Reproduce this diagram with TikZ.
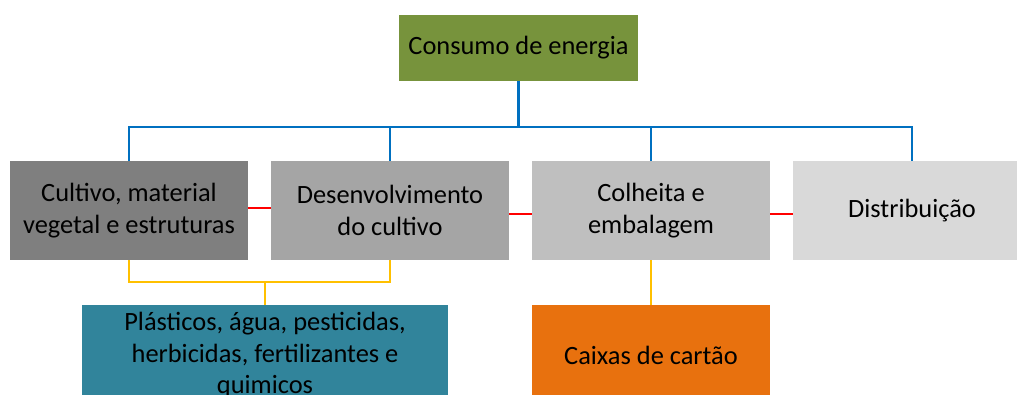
\documentclass[tikz,border=0pt]{standalone}
\usepackage{fontspec}
\setmainfont{Carlito}
\definecolor{cgreen}{HTML}{77933C}
\definecolor{cg1}{HTML}{7F7F7F}
\definecolor{cg2}{HTML}{A5A5A5}
\definecolor{cg3}{HTML}{BFBFBF}
\definecolor{cg4}{HTML}{D9D9D9}
\definecolor{cteal}{HTML}{31849B}
\definecolor{corange}{HTML}{E8710E}
\definecolor{cblue}{HTML}{0070C0}
\definecolor{cred}{HTML}{FF0000}
\definecolor{cyellow}{HTML}{FFC000}
\begin{document}
\begin{tikzpicture}[x=1bp,y=-1bp,
  box/.style={rectangle, inner sep=0pt, align=center, text=black,
    font=\fontsize{26.5}{32}\selectfont},
  bluel/.style={draw=cblue, line width=2.6bp},
  redl/.style={draw=cred, line width=2.6bp},
  yell/.style={draw=cyellow, line width=2.6bp}]
\useasboundingbox (0,0) rectangle (1017,394);
\clip (0,0) rectangle (1017,394);
\node[box, fill=cgreen, minimum width=239bp, minimum height=66bp] (top) at (518.5,48) {Consumo de energia};
\node[box, fill=cg1, minimum width=238bp, minimum height=99bp] (b1) at (129,210.5) {Cultivo, material\\vegetal e estruturas};
\node[box, fill=cg2, minimum width=238bp, minimum height=99bp] (b2) at (390,210.5) {Desenvolvimento\\do cultivo};
\node[box, fill=cg3, minimum width=238bp, minimum height=99bp] (b3) at (651,210.5) {Colheita e\\embalagem};
\node[box, fill=cg4, minimum width=238bp, minimum height=99bp] (b4) at (912,210.5) {Distribuição};
\node[box, fill=cteal, minimum width=366bp, minimum height=100bp] (b5) at (265,355) {Plásticos, água, pesticidas,\\herbicidas, fertilizantes e\\quimicos};
\node[box, fill=corange, minimum width=238bp, minimum height=100bp] (b6) at (651,355) {Caixas de cartão};
\coordinate (bus) at (518.5,127);
\coordinate (ybus) at (265,282);
% blue tree
\draw[bluel] (top.south) -- (bus);
\draw[bluel] (b1.north) -- (b1.north |- bus) -- (b4.north |- bus) -- (b4.north);
\draw[bluel] (b2.north) -- (b2.north |- bus);
\draw[bluel] (b3.north) -- (b3.north |- bus);
% red links
\draw[redl] ([yshift=2.5bp]b1.east) -- ([yshift=2.5bp]b2.west);
\draw[redl] ([yshift=-3.5bp]b2.east) -- ([yshift=-3.5bp]b3.west);
\draw[redl] ([yshift=-3.5bp]b3.east) -- ([yshift=-3.5bp]b4.west);
% yellow links
\draw[yell] (b1.south) -- (b1.south |- ybus) -- (b2.south |- ybus) -- (b2.south);
\draw[yell] (ybus) -- (b5.north);
\draw[yell] (b3.south) -- (b6.north);
\end{tikzpicture}
\end{document}
